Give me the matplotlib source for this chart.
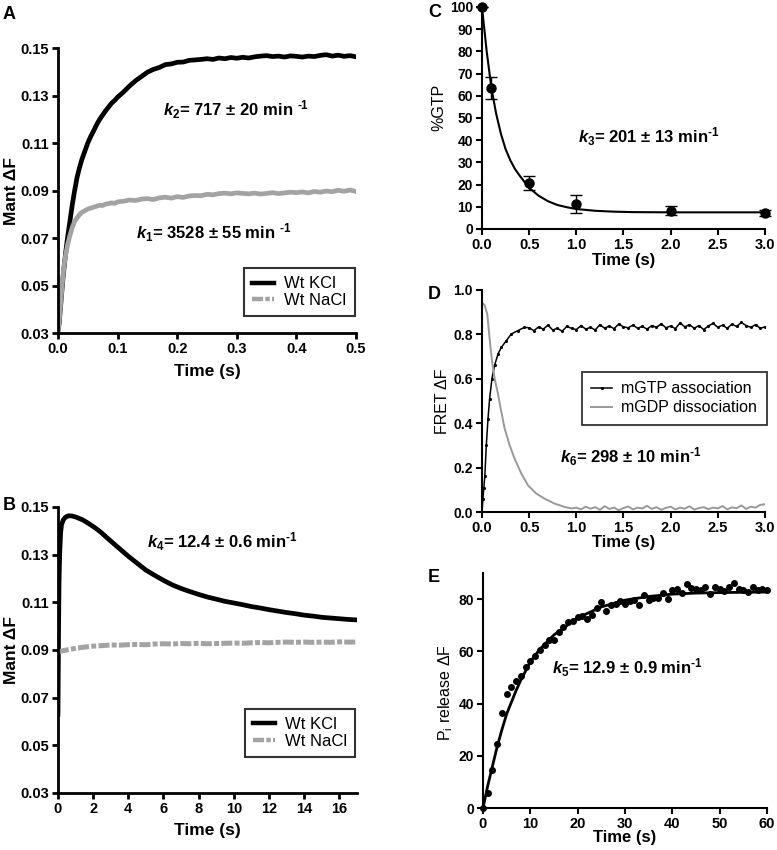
import numpy as np
import matplotlib
matplotlib.use("Agg")
import matplotlib.pyplot as plt
from matplotlib.lines import Line2D

plt.rcParams['font.family'] = ['Liberation Sans', 'DejaVu Sans']
plt.rcParams['mathtext.fontset'] = 'custom'
plt.rcParams['mathtext.rm'] = 'Liberation Sans:bold'
plt.rcParams['mathtext.it'] = 'Liberation Sans:italic:bold'
plt.rcParams['mathtext.bf'] = 'Liberation Sans:bold'
plt.rcParams['mathtext.sf'] = 'Liberation Sans'

# ---- panel A : fast phase, KCl vs NaCl ----
tA = [0, 0.002, 0.004, 0.006, 0.008, 0.01, 0.013, 0.016, 0.02, 0.024, 0.028,
      0.032, 0.036, 0.04, 0.045, 0.05, 0.055, 0.06, 0.065, 0.07, 0.075, 0.08,
      0.085, 0.09, 0.095, 0.1, 0.11, 0.12, 0.13, 0.14, 0.15, 0.16, 0.17, 0.18,
      0.19, 0.2, 0.21, 0.22, 0.23, 0.24, 0.25, 0.26, 0.27, 0.28, 0.29, 0.3,
      0.31, 0.32, 0.33, 0.34, 0.35, 0.36, 0.37, 0.38, 0.39, 0.4, 0.41, 0.42,
      0.43, 0.44, 0.45, 0.46, 0.47, 0.48, 0.49, 0.5]
kcl_A = [0.031, 0.034, 0.040, 0.046, 0.052, 0.057, 0.064, 0.070, 0.077, 0.084,
         0.090, 0.0955, 0.0995, 0.103, 0.1065, 0.1100, 0.1128, 0.1152, 0.1178,
         0.1200, 0.1218, 0.1236, 0.1252, 0.1268, 0.1279, 0.1293, 0.1315,
         0.1340, 0.1362, 0.1380, 0.1398, 0.1410, 0.1418, 0.1430, 0.1433,
         0.1440, 0.1441, 0.1448, 0.1450, 0.1452, 0.1455, 0.1452, 0.1458,
         0.1455, 0.1460, 0.1457, 0.1461, 0.1458, 0.1463, 0.1466, 0.1468,
         0.1464, 0.1466, 0.1462, 0.1467, 0.1465, 0.1462, 0.1466, 0.1464,
         0.1469, 0.1472, 0.1466, 0.1470, 0.1465, 0.1468, 0.1463]
nacl_A = [0.031, 0.035, 0.041, 0.047, 0.053, 0.058, 0.063, 0.067, 0.071,
          0.0745, 0.077, 0.0785, 0.0798, 0.0808, 0.0815, 0.0822, 0.0826,
          0.0830, 0.0834, 0.0838, 0.0837, 0.0843, 0.0845, 0.0848, 0.0846,
          0.0852, 0.0855, 0.0860, 0.0858, 0.0864, 0.0866, 0.0862, 0.0869,
          0.0872, 0.0868, 0.0874, 0.0871, 0.0877, 0.0879, 0.0878, 0.0884,
          0.0882, 0.0887, 0.0889, 0.0886, 0.0890, 0.0888, 0.0886, 0.0889,
          0.0885, 0.0888, 0.0891, 0.0887, 0.0890, 0.0893, 0.0891, 0.0894,
          0.0890, 0.0896, 0.0893, 0.0898, 0.0895, 0.0901, 0.0897, 0.0902,
          0.0896]

# ---- panel B : slow phase ----
tB_kcl = [0, 0.03, 0.06, 0.1, 0.15, 0.2, 0.3, 0.4, 0.5, 0.6, 0.8, 1.0, 1.2,
          1.4, 1.6, 1.8, 2.0, 2.25, 2.5, 2.75, 3.0, 3.5, 4.0, 4.5, 5.0, 5.5,
          6.0, 6.5, 7.0, 7.5, 8.0, 8.5, 9.0, 9.5, 10.0, 10.5, 11.0, 11.5,
          12.0, 12.5, 13.0, 13.5, 14.0, 14.5, 15.0, 15.5, 16.0, 16.5, 17.0]
kcl_B = [0.063, 0.095, 0.118, 0.131, 0.139, 0.1425, 0.1445, 0.1455, 0.146,
         0.1463, 0.1462, 0.1458, 0.1452, 0.1446, 0.1437, 0.1428, 0.1418,
         0.1405, 0.1390, 0.1373, 0.1357, 0.1325, 0.1293, 0.1264, 0.1235,
         0.1213, 0.1192, 0.1173, 0.1158, 0.1145, 0.1133, 0.1122, 0.1113,
         0.1104, 0.1097, 0.1090, 0.1082, 0.1076, 0.1069, 0.1063, 0.1057,
         0.1052, 0.1046, 0.1042, 0.1037, 0.1034, 0.1031, 0.1028, 0.1026]
tB_nacl = [0, 0.5, 1, 1.5, 2, 2.5, 3, 3.5, 4, 4.5, 5, 5.5, 6, 6.5, 7, 7.5, 8,
           8.5, 9, 9.5, 10, 10.5, 11, 11.5, 12, 12.5, 13, 13.5, 14, 14.5, 15,
           15.5, 16, 16.5, 17]
nacl_B = [0.0892, 0.0900, 0.0907, 0.0912, 0.0916, 0.0918, 0.0921, 0.0920,
          0.0922, 0.0923, 0.0922, 0.0925, 0.0926, 0.0925, 0.0927, 0.0926,
          0.0928, 0.0926, 0.0927, 0.0928, 0.0929, 0.0928, 0.0930, 0.0931,
          0.0930, 0.0932, 0.0933, 0.0932, 0.0933, 0.0932, 0.0933, 0.0932,
          0.0934, 0.0933, 0.0933]

# ---- panel C : %GTP quench ----
tC = [0.0, 0.1, 0.5, 1.0, 2.0, 3.0]
gtp = [100.0, 63.5, 20.5, 11.2, 8.3, 7.2]
gtp_lo = [100.0, 58.5, 17.5, 7.2, 6.3, 5.8]
gtp_hi = [100.0, 68.5, 23.8, 15.3, 10.3, 8.6]
tC_fit = [0.0, 0.05, 0.1, 0.15, 0.2, 0.25, 0.3, 0.35, 0.4, 0.5, 0.6, 0.7,
          0.8, 0.9, 1.0, 1.2, 1.4, 1.6, 2.0, 2.5, 3.0]
gtp_fit = [100.0, 80.0, 63.5, 52.0, 43.0, 36.0, 31.0, 27.0, 24.0, 18.5, 15.0,
           12.5, 10.8, 9.8, 9.0, 8.2, 7.8, 7.6, 7.5, 7.5, 7.5]

# ---- panel D : FRET ----
tD_rise = [0, 0.01, 0.02, 0.03, 0.046, 0.064, 0.081, 0.106, 0.134, 0.17,
           0.205, 0.258, 0.31, 0.38, 0.45]
tD_flat = [0.50, 0.55, 0.60, 0.65, 0.70, 0.75, 0.80, 0.85, 0.90, 0.95, 1.00,
           1.05, 1.10, 1.15, 1.20, 1.25, 1.30, 1.35, 1.40, 1.45, 1.50, 1.55,
           1.60, 1.65, 1.70, 1.75, 1.80, 1.85, 1.90, 1.95, 2.00, 2.05, 2.10,
           2.15, 2.20, 2.25, 2.30, 2.35, 2.40, 2.45, 2.50, 2.55, 2.60, 2.65,
           2.70, 2.75, 2.80, 2.85, 2.90, 2.95, 3.00]
assoc_rise = [0.0, 0.06, 0.11, 0.16, 0.30, 0.42, 0.51, 0.60, 0.66, 0.71,
              0.74, 0.77, 0.80, 0.815, 0.83]
assoc_flat = [0.828, 0.815, 0.832, 0.822, 0.840, 0.818, 0.826, 0.812, 0.835,
              0.825, 0.820, 0.838, 0.822, 0.830, 0.818, 0.842, 0.826, 0.836,
              0.824, 0.845, 0.832, 0.828, 0.840, 0.826, 0.834, 0.822, 0.838,
              0.830, 0.846, 0.828, 0.836, 0.824, 0.850, 0.832, 0.842, 0.826,
              0.838, 0.820, 0.836, 0.848, 0.830, 0.840, 0.826, 0.844, 0.834,
              0.852, 0.838, 0.830, 0.842, 0.826, 0.832]
tD_decay = [0, 0.028, 0.056, 0.081, 0.106, 0.134, 0.17, 0.205, 0.24, 0.293,
            0.346, 0.417, 0.488, 0.576, 0.664, 0.77, 0.876, 0.95]
dissoc_decay = [0.94, 0.93, 0.89, 0.78, 0.68, 0.60, 0.53, 0.45, 0.376, 0.30,
                0.24, 0.173, 0.12, 0.083, 0.06, 0.038, 0.023, 0.016]
tD_tail = [1.00, 1.05, 1.10, 1.15, 1.20, 1.25, 1.30, 1.35, 1.40, 1.45, 1.50,
           1.55, 1.60, 1.65, 1.70, 1.75, 1.80, 1.85, 1.90, 1.95, 2.00, 2.05,
           2.10, 2.15, 2.20, 2.25, 2.30, 2.35, 2.40, 2.45, 2.50, 2.55, 2.60,
           2.65, 2.70, 2.75, 2.80, 2.85, 2.90, 2.95, 3.00]
dissoc_tail = [0.020, 0.012, 0.024, 0.015, 0.022, 0.010, 0.026, 0.014, 0.020,
               0.008, 0.018, 0.025, 0.012, 0.020, 0.016, 0.028, 0.014, 0.022,
               0.010, 0.019, 0.024, 0.012, 0.020, 0.015, 0.026, 0.011, 0.018,
               0.022, 0.013, 0.020, 0.016, 0.027, 0.012, 0.021, 0.017, 0.030,
               0.014, 0.024, 0.020, 0.032, 0.035]

# ---- panel E : Pi release ----
tE = list(range(0, 61))
pi_rel = [0, 5.7, 14.7, 24.5, 36.4, 43.8, 46.3, 48.7, 50.4, 54.0, 56.4, 58.3,
          60.6, 62.5, 64.2, 64.4, 67.4, 69.2, 71.1, 71.7, 73.1, 73.4, 72.5,
          74.0, 76.4, 78.7, 75.3, 77.8, 78.2, 79.1, 78.1, 79.1, 79.7, 77.6,
          81.4, 79.7, 80.6, 80.6, 82.3, 80.0, 83.6, 83.8, 82.5, 85.9, 84.2,
          83.8, 83.6, 84.5, 82.0, 84.6, 83.8, 83.2, 84.8, 86.1, 83.9, 83.3,
          82.9, 84.8, 83.6, 83.9, 83.3]
tE_fit = [0, 1, 2, 3, 4, 5, 6, 7, 8, 10, 12, 15, 20, 25, 30, 35, 40, 45, 50,
          55, 60]
pi_fit = [0, 8.5, 16.0, 23.5, 30.0, 36.0, 40.5, 45.0, 49.0, 56.0, 60.8, 66.3,
          72.8, 77.0, 79.6, 81.0, 81.9, 82.3, 82.5, 82.6, 82.7]

grey = '#a3a3a3'
nacl_dash = (0, (2.2, 0.45, 1.0, 0.45))
sup = r'$^{\text{-}\mathrm{1}}$'

fig = plt.figure(figsize=(7.77, 8.5), dpi=100)


def style(ax, lw, xsize, ysize):
    for s in ['top', 'right']:
        ax.spines[s].set_visible(False)
    for s in ['left', 'bottom']:
        ax.spines[s].set_linewidth(lw)
    ax.tick_params(direction='out', length=4.5, width=lw, pad=2)
    for lab in ax.get_xticklabels():
        lab.set_fontweight('bold')
        lab.set_fontsize(xsize)
    for lab in ax.get_yticklabels():
        lab.set_fontweight('bold')
        lab.set_fontsize(ysize)


def salt_legend(ax, anchor):
    handles = [Line2D([], [], color='black', lw=3.2),
               Line2D([], [], color=grey, lw=3.2, ls=(0, (2.5, 0.5, 1.0, 0.5)))]
    leg = ax.legend(handles, ['Wt KCl', 'Wt NaCl'], loc='lower right',
                    bbox_to_anchor=anchor, borderaxespad=0, fancybox=False,
                    fontsize=12, handlelength=1.3, handletextpad=0.6,
                    borderpad=0.5, labelspacing=0.1)
    leg.get_frame().set_edgecolor('black')
    leg.get_frame().set_linewidth(1.5)


# A
axA = fig.add_axes([0.0746, 0.6082, 0.3836, 0.3353])
axA.plot(tA, kcl_A, color='black', lw=3.4)
axA.plot(tA, nacl_A, color=grey, lw=3.4)
axA.set_xlim(0, 0.5)
axA.set_ylim(0.03, 0.15)
axA.set_xticks([0.0, 0.1, 0.2, 0.3, 0.4, 0.5])
axA.set_xticklabels(['0.0', '0.1', '0.2', '0.3', '0.4', '0.5'])
axA.set_yticks([0.03, 0.05, 0.07, 0.09, 0.11, 0.13, 0.15])
axA.set_yticklabels(['0.03', '0.05', '0.07', '0.09', '0.11', '0.13', '0.15'])
style(axA, 2, 10.5, 10.5)
axA.set_xlabel('Time (s)', fontsize=12.5, fontweight='bold', va='top')
axA.xaxis.set_label_coords(0.5, -0.11)
axA.set_ylabel('Mant ΔF', fontsize=12.5, fontweight='bold')
axA.yaxis.set_label_coords(-0.13, 0.5)
axA.text(0.176, 0.124, r'$\it{k}_\mathrm{2}$= 717 ± 20 min ' + sup,
         fontsize=12, fontweight='bold', va='center')
axA.text(0.131, 0.0721, r'$\it{k}_\mathrm{1}$= 3528 ± 55 min ' + sup,
         fontsize=12, fontweight='bold', va='center')
salt_legend(axA, (0.995, 0.058))

# B
axB = fig.add_axes([0.0746, 0.0671, 0.3848, 0.3365])
axB.plot(tB_kcl, kcl_B, color='black', lw=3.4)
axB.plot(tB_nacl, nacl_B, color=grey, lw=3.6, ls=nacl_dash)
axB.set_xlim(0, 17)
axB.set_ylim(0.03, 0.15)
axB.set_xticks([0, 2, 4, 6, 8, 10, 12, 14, 16])
axB.set_yticks([0.03, 0.05, 0.07, 0.09, 0.11, 0.13, 0.15])
axB.set_yticklabels(['0.03', '0.05', '0.07', '0.09', '0.11', '0.13', '0.15'])
style(axB, 2, 10.5, 10.5)
axB.set_xlabel('Time (s)', fontsize=12.5, fontweight='bold', va='top')
axB.xaxis.set_label_coords(0.5, -0.105)
axB.set_ylabel('Mant ΔF', fontsize=12.5, fontweight='bold')
axB.yaxis.set_label_coords(-0.13, 0.5)
axB.text(5.06, 0.1353, r'$\it{k}_\mathrm{4}$= 12.4 ± 0.6 min' + sup,
         fontsize=12, fontweight='bold', va='center')
salt_legend(axB, (0.995, 0.126))

# C
axC = fig.add_axes([0.6203, 0.7306, 0.3642, 0.2612])
axC.plot(tC_fit, gtp_fit, color='black', lw=1.5)
yerr = [np.array(gtp) - np.array(gtp_lo), np.array(gtp_hi) - np.array(gtp)]
axC.errorbar(tC, gtp, yerr=yerr, fmt='o', color='black', ms=6.5,
             capsize=4, elinewidth=1, capthick=1, clip_on=False)
axC.set_xlim(0, 3.0)
axC.set_ylim(0, 100)
axC.set_xticks([0.0, 0.5, 1.0, 1.5, 2.0, 2.5, 3.0])
axC.set_xticklabels(['0.0', '0.5', '1.0', '1.5', '2.0', '2.5', '3.0'])
axC.set_yticks(range(0, 101, 10))
style(axC, 1.5, 10.5, 10)
axC.set_xlabel('Time (s)', fontsize=12, fontweight='bold', va='top')
axC.xaxis.set_label_coords(0.5, -0.11)
axC.set_ylabel('%GTP', fontsize=11.5)
axC.yaxis.set_label_coords(-0.125, 0.55)
axC.text(1.02, 41.4, r'$\it{k}_\mathrm{3}$= 201 ± 13 min' + sup,
         fontsize=12, fontweight='bold', va='center')

# D
axD = fig.add_axes([0.6203, 0.3976, 0.3642, 0.2618])
axD.plot(tD_rise + tD_flat, assoc_rise + assoc_flat, color='black', lw=1.1,
         marker='.', ms=2.5, label='mGTP association')
axD.plot(tD_decay + tD_tail, dissoc_decay + dissoc_tail, color='#999999',
         lw=1.4, label='mGDP dissociation')
axD.set_xlim(0, 3.0)
axD.set_ylim(0, 1.0)
axD.set_xticks([0.0, 0.5, 1.0, 1.5, 2.0, 2.5, 3.0])
axD.set_xticklabels(['0.0', '0.5', '1.0', '1.5', '2.0', '2.5', '3.0'])
axD.set_yticks([0.0, 0.2, 0.4, 0.6, 0.8, 1.0])
axD.set_yticklabels(['0.0', '0.2', '0.4', '0.6', '0.8', '1.0'])
style(axD, 1.5, 10.5, 10)
axD.set_xlabel('Time (s)', fontsize=12, fontweight='bold', va='top')
axD.xaxis.set_label_coords(0.5, -0.105)
axD.set_ylabel('FRET ΔF', fontsize=11.5)
axD.yaxis.set_label_coords(-0.113, 0.5)
axD.text(0.83, 0.25, r'$\it{k}_\mathrm{6}$= 298 ± 10 min' + sup,
         fontsize=12, fontweight='bold', va='center')
legD = axD.legend(loc='upper right', bbox_to_anchor=(1.007, 0.63),
                  borderaxespad=0, fancybox=False, fontsize=11.5,
                  handlelength=1.3, handletextpad=0.6, borderpad=0.6,
                  labelspacing=0.25)
legD.get_frame().set_edgecolor('black')
legD.get_frame().set_linewidth(1.3)

# E
axE = fig.add_axes([0.6216, 0.0494, 0.3655, 0.2765])
axE.plot(tE_fit, pi_fit, color='black', lw=2)
axE.plot(tE, pi_rel, 'o', color='black', ms=4, clip_on=False)
axE.set_xlim(0, 60)
axE.set_ylim(0, 90)
axE.set_xticks([0, 10, 20, 30, 40, 50, 60])
axE.set_yticks([0, 20, 40, 60, 80])
style(axE, 1.5, 10.5, 10)
axE.set_xlabel('Time (s)', fontsize=12, fontweight='bold', va='top')
axE.xaxis.set_label_coords(0.5, -0.095)
axE.set_ylabel(r'P$_\mathsf{i}$ release ΔF', fontsize=11.5)
axE.yaxis.set_label_coords(-0.1, 0.49)
axE.text(14.6, 53.6, r'$\it{k}_\mathrm{5}$= 12.9 ± 0.9 min' + sup,
         fontsize=12, fontweight='bold', va='center')

# panel letters
for lab, x, y in [('A', 3, 6), ('B', 3, 497), ('C', 428, 4), ('D', 428, 286),
                  ('E', 428, 569)]:
    fig.text(x / 777, 1 - y / 850, lab, fontsize=13, fontweight='bold',
             va='top', ha='left')

fig.savefig('out.png', dpi=100)
